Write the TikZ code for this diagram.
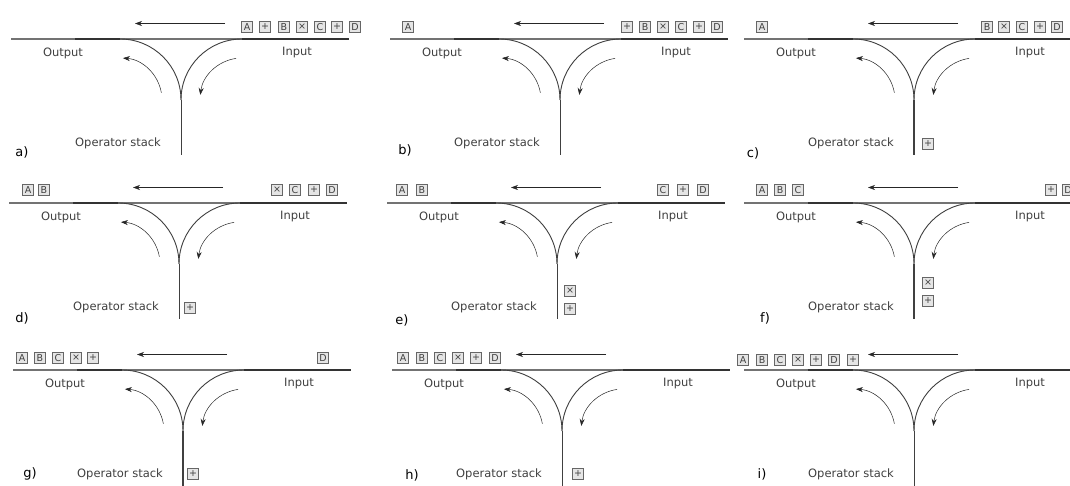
\documentclass[tikz,border=0pt]{standalone}
\usepackage{fontspec}
\setmainfont{DejaVu Sans}
\usetikzlibrary{arrows.meta}
\newcounter{tkn}
\tikzset{
 rail/.style={draw=black!55, line width=1.1pt},
 raildark/.style={draw=black!80, line width=1.1pt},
 curve/.style={draw=black!75, line width=0.9pt},
 flow/.style={draw=black!85, line width=0.5pt, -{Stealth[length=7pt,width=5pt]}},
 lbl/.style={text=black!75, font=\fontsize{11.5}{13}\selectfont, inner sep=0pt},
 plbl/.style={text=black, font=\fontsize{13}{15}\selectfont, inner sep=0pt},
 tok/.style={draw=black!60, fill=black!10, text=black!75, minimum size=10.5pt, inner sep=0pt, line width=0.6pt, font=\fontsize{9.5}{9.5}\selectfont},
}
\newcommand{\yard}[6]{%
 \node[plbl] (#3-lab) at (#4,486-#5) {#3)};
 \begin{scope}[shift={(#1,486-#2)}]
  \draw[rail] (-170,0) -- (168,0);
  \draw[raildark] (-106,0) -- (-61,0) (61,0) -- (168,0);
  \coordinate (#3-j) at (0,-61);
  \coordinate (#3-b) at (0,-116);
  \draw[curve] (-61,0) arc[start angle=90,end angle=0,radius=61pt];
  \draw[curve] (61,0) arc[start angle=90,end angle=180,radius=61pt];
  \draw[curve, line width=#6] (#3-j) -- (#3-b);
  \coordinate (#3-l) at (-19.64,-53.71);
  \coordinate (#3-r) at (55.15,-19.41);
  \draw[flow] (#3-l) arc[start angle=10,end angle=86,radius=42pt];
  \draw[flow] (#3-r) arc[start angle=98,end angle=173,radius=42pt];
  \coordinate (#3-t1) at (44,15.5);
  \coordinate (#3-t2) at (-46,15.5);
  \draw[flow] (#3-t1) -- (#3-t2);
  \node[lbl] (#3-out) at (-118,-14) {Output};
  \node[lbl] (#3-in) at (116,-14) {Input};
  \node[lbl] (#3-op) at (-63,-104) {Operator stack};
 \end{scope}}
\newcommand{\tk}[3]{\stepcounter{tkn}\node[tok] (tk\arabic{tkn}) at (#1,486-#2) {#3};}
\begin{document}
\begin{tikzpicture}[x=1pt,y=1pt]
\useasboundingbox (0,0) rectangle (1070,486);
\fill[white] (0,0) rectangle (1070,486);
\clip (0,0) rectangle (1070,486);
% row 1
\yard{181}{39}{a}{22}{152}{0.9pt}
\yard{560}{39}{b}{405}{150}{0.9pt}
\yard{914}{39}{c}{753}{153}{2pt}
% row 2
\yard{179}{203}{d}{22}{318}{0.9pt}
\yard{557}{203}{e}{402}{320}{0.9pt}
\yard{914}{203}{f}{765}{318}{1.3pt}
% row 3
\yard{183}{370}{g}{30}{474}{2pt}
\yard{562}{370}{h}{412}{475}{0.9pt}
\yard{914}{370}{i}{762}{474}{0.9pt}
% tokens a
\tk{247}{27}{A}\tk{265}{27}{+}\tk{284}{27}{B}\tk{302}{27}{×}\tk{320}{27}{C}\tk{337}{27}{+}\tk{355}{27}{D}
% tokens b
\tk{408}{27}{A}
\tk{627}{27}{+}\tk{645}{27}{B}\tk{663}{27}{×}\tk{681}{27}{C}\tk{699}{27}{+}\tk{717}{27}{D}
% tokens c
\tk{762}{27}{A}
\tk{987}{27}{B}\tk{1004}{27}{×}\tk{1022}{27}{C}\tk{1040}{27}{+}\tk{1057}{27}{D}
\tk{928}{144}{+}
% tokens d
\tk{28}{190}{A}\tk{44}{190}{B}
\tk{277}{190}{×}\tk{295}{190}{C}\tk{314}{190}{+}\tk{332}{190}{D}
\tk{190}{308}{+}
% tokens e
\tk{402}{190}{A}\tk{422}{190}{B}
\tk{663}{190}{C}\tk{683}{190}{+}\tk{703}{190}{D}
\tk{570}{291}{×}\tk{570}{309}{+}
% tokens f
\tk{762}{190}{A}\tk{780}{190}{B}\tk{798}{190}{C}
\tk{1051}{190}{+}\tk{1068}{190}{D}
\tk{928}{283}{×}\tk{928}{301}{+}
% tokens g
\tk{22}{358}{A}\tk{40}{358}{B}\tk{58}{358}{C}\tk{76}{358}{×}\tk{93}{358}{+}
\tk{323}{358}{D}
\tk{193}{474}{+}
% tokens h
\tk{403}{358}{A}\tk{422}{358}{B}\tk{440}{358}{C}\tk{458}{358}{×}\tk{476}{358}{+}\tk{495}{358}{D}
\tk{578}{474}{+}
% tokens i
\tk{743}{360}{A}\tk{762}{360}{B}\tk{780}{360}{C}\tk{798}{360}{×}\tk{816}{360}{+}\tk{834}{360}{D}\tk{853}{360}{+}
\end{tikzpicture}
\end{document}
